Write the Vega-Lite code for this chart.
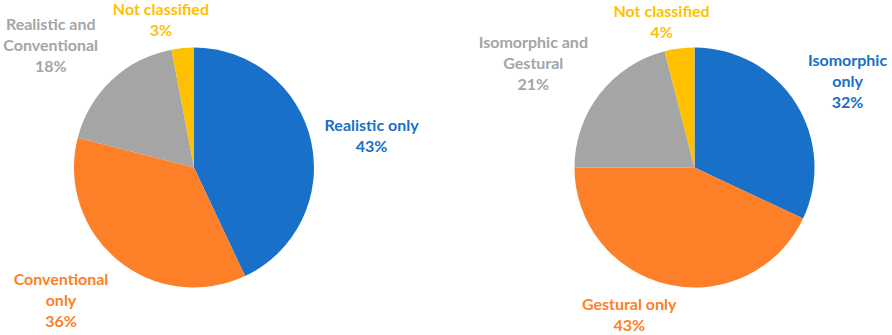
{
  "$schema": "https://vega.github.io/schema/vega-lite/v6.json",
  "width": 892,
  "height": 335,
  "padding": 0,
  "autosize": "none",
  "background": "white",
  "config": {"view": {"stroke": null}, "text": {"font": "Lato", "fontWeight": "bold", "fontSize": 16, "lineHeight": 21, "lineBreak": "\n", "baseline": "middle", "align": "center"}},
  "data": {
    "values": [
      {"chart": "left", "kind": "A only", "ord": 1, "value": 43, "label": "Realistic only\n43%"},
      {"chart": "left", "kind": "B only", "ord": 2, "value": 36, "label": "Conventional\nonly\n36%"},
      {"chart": "left", "kind": "Both", "ord": 3, "value": 18, "label": "Realistic and\nConventional\n18%"},
      {"chart": "left", "kind": "Not classified", "ord": 4, "value": 3, "label": "Not classified\n3%"},
      {"chart": "right", "kind": "A only", "ord": 5, "value": 32, "label": "Isomorphic\nonly\n32%"},
      {"chart": "right", "kind": "B only", "ord": 6, "value": 43, "label": "Gestural only\n43%"},
      {"chart": "right", "kind": "Both", "ord": 7, "value": 21, "label": "Isomorphic and\nGestural\n21%"},
      {"chart": "right", "kind": "Not classified", "ord": 8, "value": 4, "label": "Not classified\n4%"}
    ]
  },
  "encoding": {
    "x": {"field": "chart", "type": "nominal", "axis": null, "scale": {"type": "point", "padding": 0.3911, "align": 0.4955}},
    "theta": {"field": "value", "type": "quantitative", "stack": true, "scale": {"domain": [0, 100]}},
    "order": {"field": "ord", "type": "quantitative"},
    "color": {
      "field": "kind", "type": "nominal", "legend": null,
      "scale": {"domain": ["A only", "B only", "Both", "Not classified"], "range": ["#1870C8", "#FD7F28", "#A5A5A5", "#FFC000"]}
    }
  },
  "layer": [
    {"mark": {"type": "arc", "outerRadius": 120}},
    {
      "mark": {"type": "text", "radius": 182, "dy": -2},
      "encoding": {"text": {"condition": {"test": "datum.chart == 'left' && datum.kind == 'A only'", "field": "label"}, "value": ""}}
    },
    {
      "mark": {"type": "text", "radius": 171, "dx": -24, "dy": -19},
      "encoding": {"text": {"condition": {"test": "datum.chart == 'left' && datum.kind == 'B only'", "field": "label"}, "value": ""}}
    },
    {
      "mark": {"type": "text", "radius": 202, "dx": -5, "dy": 5},
      "encoding": {"text": {"condition": {"test": "datum.chart == 'left' && datum.kind == 'Both'", "field": "label"}, "value": ""}}
    },
    {
      "mark": {"type": "text", "radius": 160, "dx": -18, "dy": 2},
      "encoding": {"text": {"condition": {"test": "datum.chart == 'left' && datum.kind == 'Not classified'", "field": "label"}, "value": ""}}
    },
    {
      "mark": {"type": "text", "radius": 186, "dx": -4, "dy": -7},
      "encoding": {"text": {"condition": {"test": "datum.chart == 'right' && datum.kind == 'A only'", "field": "label"}, "value": ""}}
    },
    {
      "mark": {"type": "text", "radius": 148, "dx": -33, "dy": -7},
      "encoding": {"text": {"condition": {"test": "datum.chart == 'right' && datum.kind == 'B only'", "field": "label"}, "value": ""}}
    },
    {
      "mark": {"type": "text", "radius": 204, "dy": 1},
      "encoding": {"text": {"condition": {"test": "datum.chart == 'right' && datum.kind == 'Both'", "field": "label"}, "value": ""}}
    },
    {
      "mark": {"type": "text", "radius": 159, "dx": -13, "dy": 2},
      "encoding": {"text": {"condition": {"test": "datum.chart == 'right' && datum.kind == 'Not classified'", "field": "label"}, "value": ""}}
    }
  ]
}
